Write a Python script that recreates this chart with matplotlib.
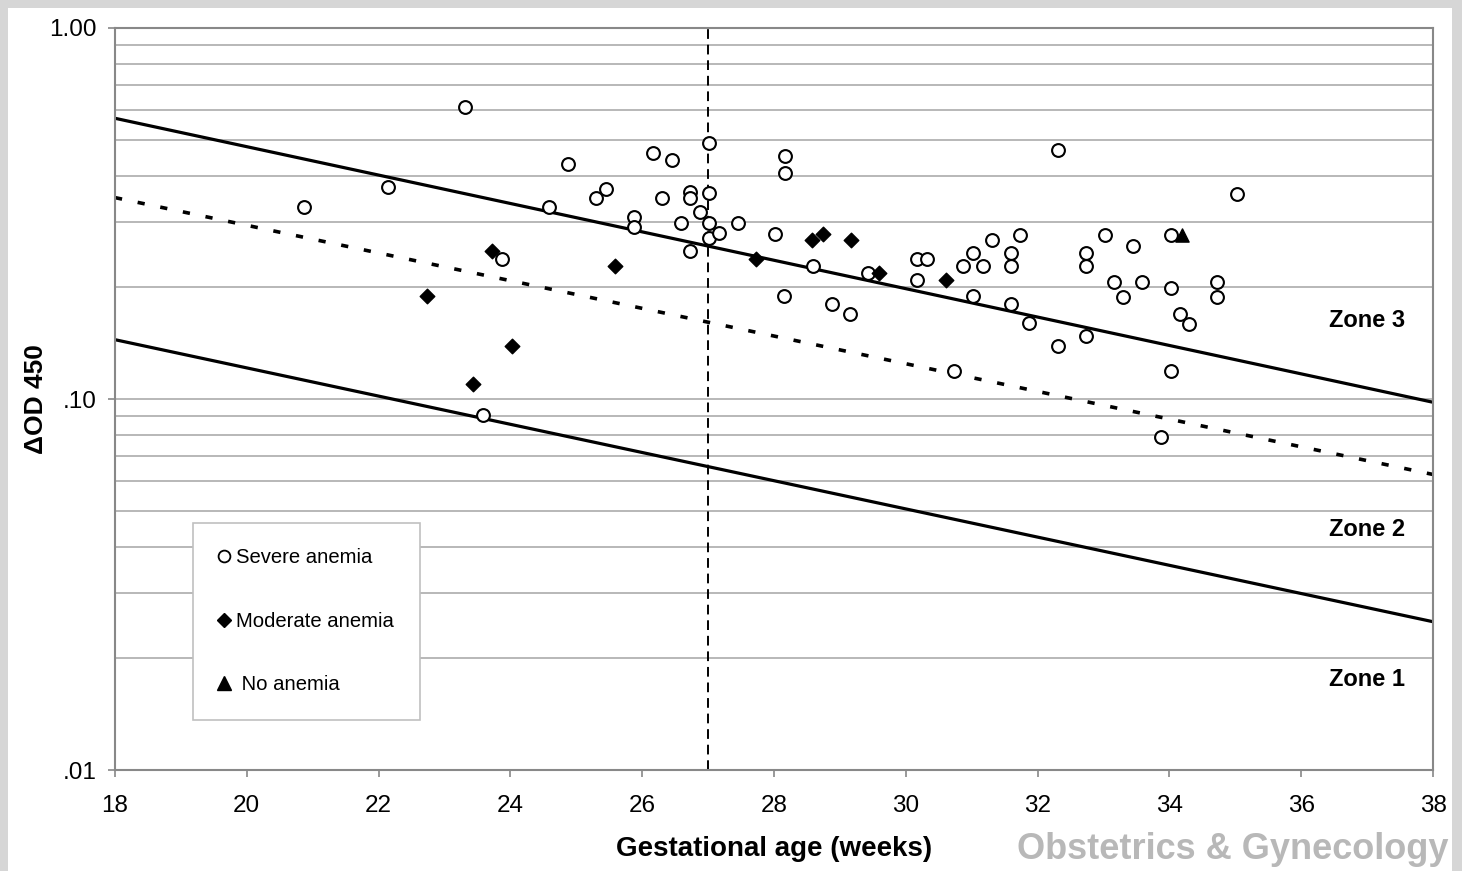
import matplotlib.pyplot as plt
from matplotlib.patches import Rectangle
from matplotlib.lines import Line2D
import numpy as np

plt.rcParams['font.family'] = ['Liberation Sans', 'DejaVu Sans']

# severe anemia (open circles)
severe_x = [20.87, 22.14, 23.31, 23.58, 23.87, 24.59, 24.87, 25.30, 25.45, 25.88,
            25.88, 26.16, 26.30, 26.45, 26.59, 26.73, 26.73, 26.73, 26.88, 27.01,
            27.01, 27.01, 27.01, 27.17, 27.45, 28.02, 28.17, 28.17, 28.15, 28.59,
            28.88, 29.15, 29.43, 30.17, 30.32, 30.17, 30.73, 30.87, 31.02, 31.17,
            31.31, 31.02, 31.60, 31.60, 31.73, 31.60, 31.87, 32.31, 32.31, 32.73,
            32.73, 32.73, 33.02, 33.45, 33.16, 33.58, 33.30, 34.02, 34.02, 34.72,
            34.72, 34.16, 34.30, 34.02, 33.87, 35.03]
severe_y = [0.330, 0.372, 0.611, 0.0908, 0.239, 0.330, 0.431, 0.349, 0.369, 0.310,
            0.290, 0.460, 0.349, 0.440, 0.299, 0.362, 0.349, 0.250, 0.320, 0.489,
            0.360, 0.299, 0.271, 0.281, 0.299, 0.279, 0.451, 0.406, 0.190, 0.229,
            0.180, 0.170, 0.219, 0.239, 0.239, 0.209, 0.119, 0.228, 0.248, 0.228,
            0.269, 0.189, 0.248, 0.228, 0.277, 0.180, 0.160, 0.468, 0.139, 0.248,
            0.228, 0.148, 0.277, 0.258, 0.207, 0.207, 0.188, 0.277, 0.199, 0.207,
            0.188, 0.169, 0.159, 0.119, 0.0792, 0.358]

# moderate anemia (filled diamonds)
moderate_x = [22.73, 23.43, 23.72, 24.02, 25.59, 27.73, 28.58, 28.74, 29.17, 29.59, 30.61]
moderate_y = [0.190, 0.110, 0.250, 0.139, 0.229, 0.239, 0.269, 0.279, 0.269, 0.219, 0.209]

# no anemia (filled triangle)
none_x = [34.19]
none_y = [0.276]

# zone boundary lines (end points at 18 and 38 weeks)
line_x = [18, 38]
upper_y = [0.571, 0.098]
middle_y = [0.349, 0.0626]
lower_y = [0.1445, 0.0251]

zone_labels = ['Zone 3', 'Zone 2', 'Zone 1']
zone_y = [0.163, 0.0444, 0.01754]

xticks = list(range(18, 39, 2))
yticks = [0.01, 0.1, 1.0]
ytick_labels = ['.01', '.10', '1.00']

fig = plt.figure(figsize=(14.62, 8.71), dpi=100, facecolor='#d6d6d6')
# white page behind the chart, grey border round it
fig.patches.append(Rectangle((8 / 1462, 0), 1444 / 1462, 863 / 871,
                             transform=fig.transFigure, facecolor='white',
                             edgecolor='none', zorder=-10))

ax = fig.add_axes([115 / 1462, 101 / 871, 1318 / 1462, 742 / 871])
ax.set_yscale('log')
ax.set_xlim(18, 38)
ax.set_ylim(0.01, 1.0)

# horizontal grid on the log decades
ax.grid(True, which='both', axis='y', color='#b8b8b8', linewidth=1.4)
ax.grid(False, axis='x')
ax.set_axisbelow(True)

ax.plot(line_x, upper_y, color='black', linewidth=2.3)
ax.plot(line_x, lower_y, color='black', linewidth=2.3)
ax.plot(line_x, middle_y, color='black', linewidth=2.6, dashes=(2, 4.4))
ax.axvline(27, color='black', linewidth=1.4, dashes=(5, 3))

ax.scatter(severe_x, severe_y, s=85, facecolors='white', edgecolors='black',
           linewidths=1.5, zorder=3)
ax.scatter(moderate_x, moderate_y, s=55, marker='D', color='black', zorder=3)
ax.scatter(none_x, none_y, s=90, marker='^', color='black', zorder=3)

for lab, yv in zip(zone_labels, zone_y):
    ax.text(37.0, yv, lab, ha='center', va='center', fontsize=17, fontweight='bold')

ax.set_xticks(xticks)
ax.set_xticklabels([str(t) for t in xticks])
ax.set_yticks(yticks)
ax.set_yticklabels(ytick_labels)
ax.yaxis.set_minor_formatter(plt.NullFormatter())
ax.tick_params(axis='y', which='minor', length=0)
ax.tick_params(axis='both', which='major', labelsize=17.5, color='#888888',
               length=5, width=1.2)
ax.tick_params(axis='x', pad=13)
ax.tick_params(axis='y', pad=8)

for sp in ax.spines.values():
    sp.set_color('#888888')
    sp.set_linewidth(1.5)

ax.set_xlabel('Gestational age (weeks)', fontsize=20, fontweight='bold', labelpad=14)
ax.set_ylabel('ΔOD 450', fontsize=19, fontweight='bold', labelpad=1)

handles = [
    Line2D([], [], linestyle='none', marker='o', markersize=8.5, markerfacecolor='white',
           markeredgecolor='black', markeredgewidth=1.3),
    Line2D([], [], linestyle='none', marker='D', markersize=7, color='black'),
    Line2D([], [], linestyle='none', marker='^', markersize=9.5, color='black'),
]
leg = ax.legend(handles, ['Severe anemia', 'Moderate anemia', ' No anemia'],
                loc='upper left', bbox_to_anchor=(0.059, 0.333), fontsize=14.6,
                frameon=True, fancybox=False, framealpha=1, edgecolor='#c0c0c0',
                handlelength=0.6, handletextpad=0.3, labelspacing=2.2,
                borderpad=1.25, borderaxespad=0)
leg.get_frame().set_linewidth(1.2)

fig.text(0.843, 0.025, 'Obstetrics & Gynecology', ha='center', va='center',
         fontsize=26, fontweight='bold', color='#b8b8b8')

fig.savefig('out.png', dpi=100, facecolor=fig.get_facecolor())
